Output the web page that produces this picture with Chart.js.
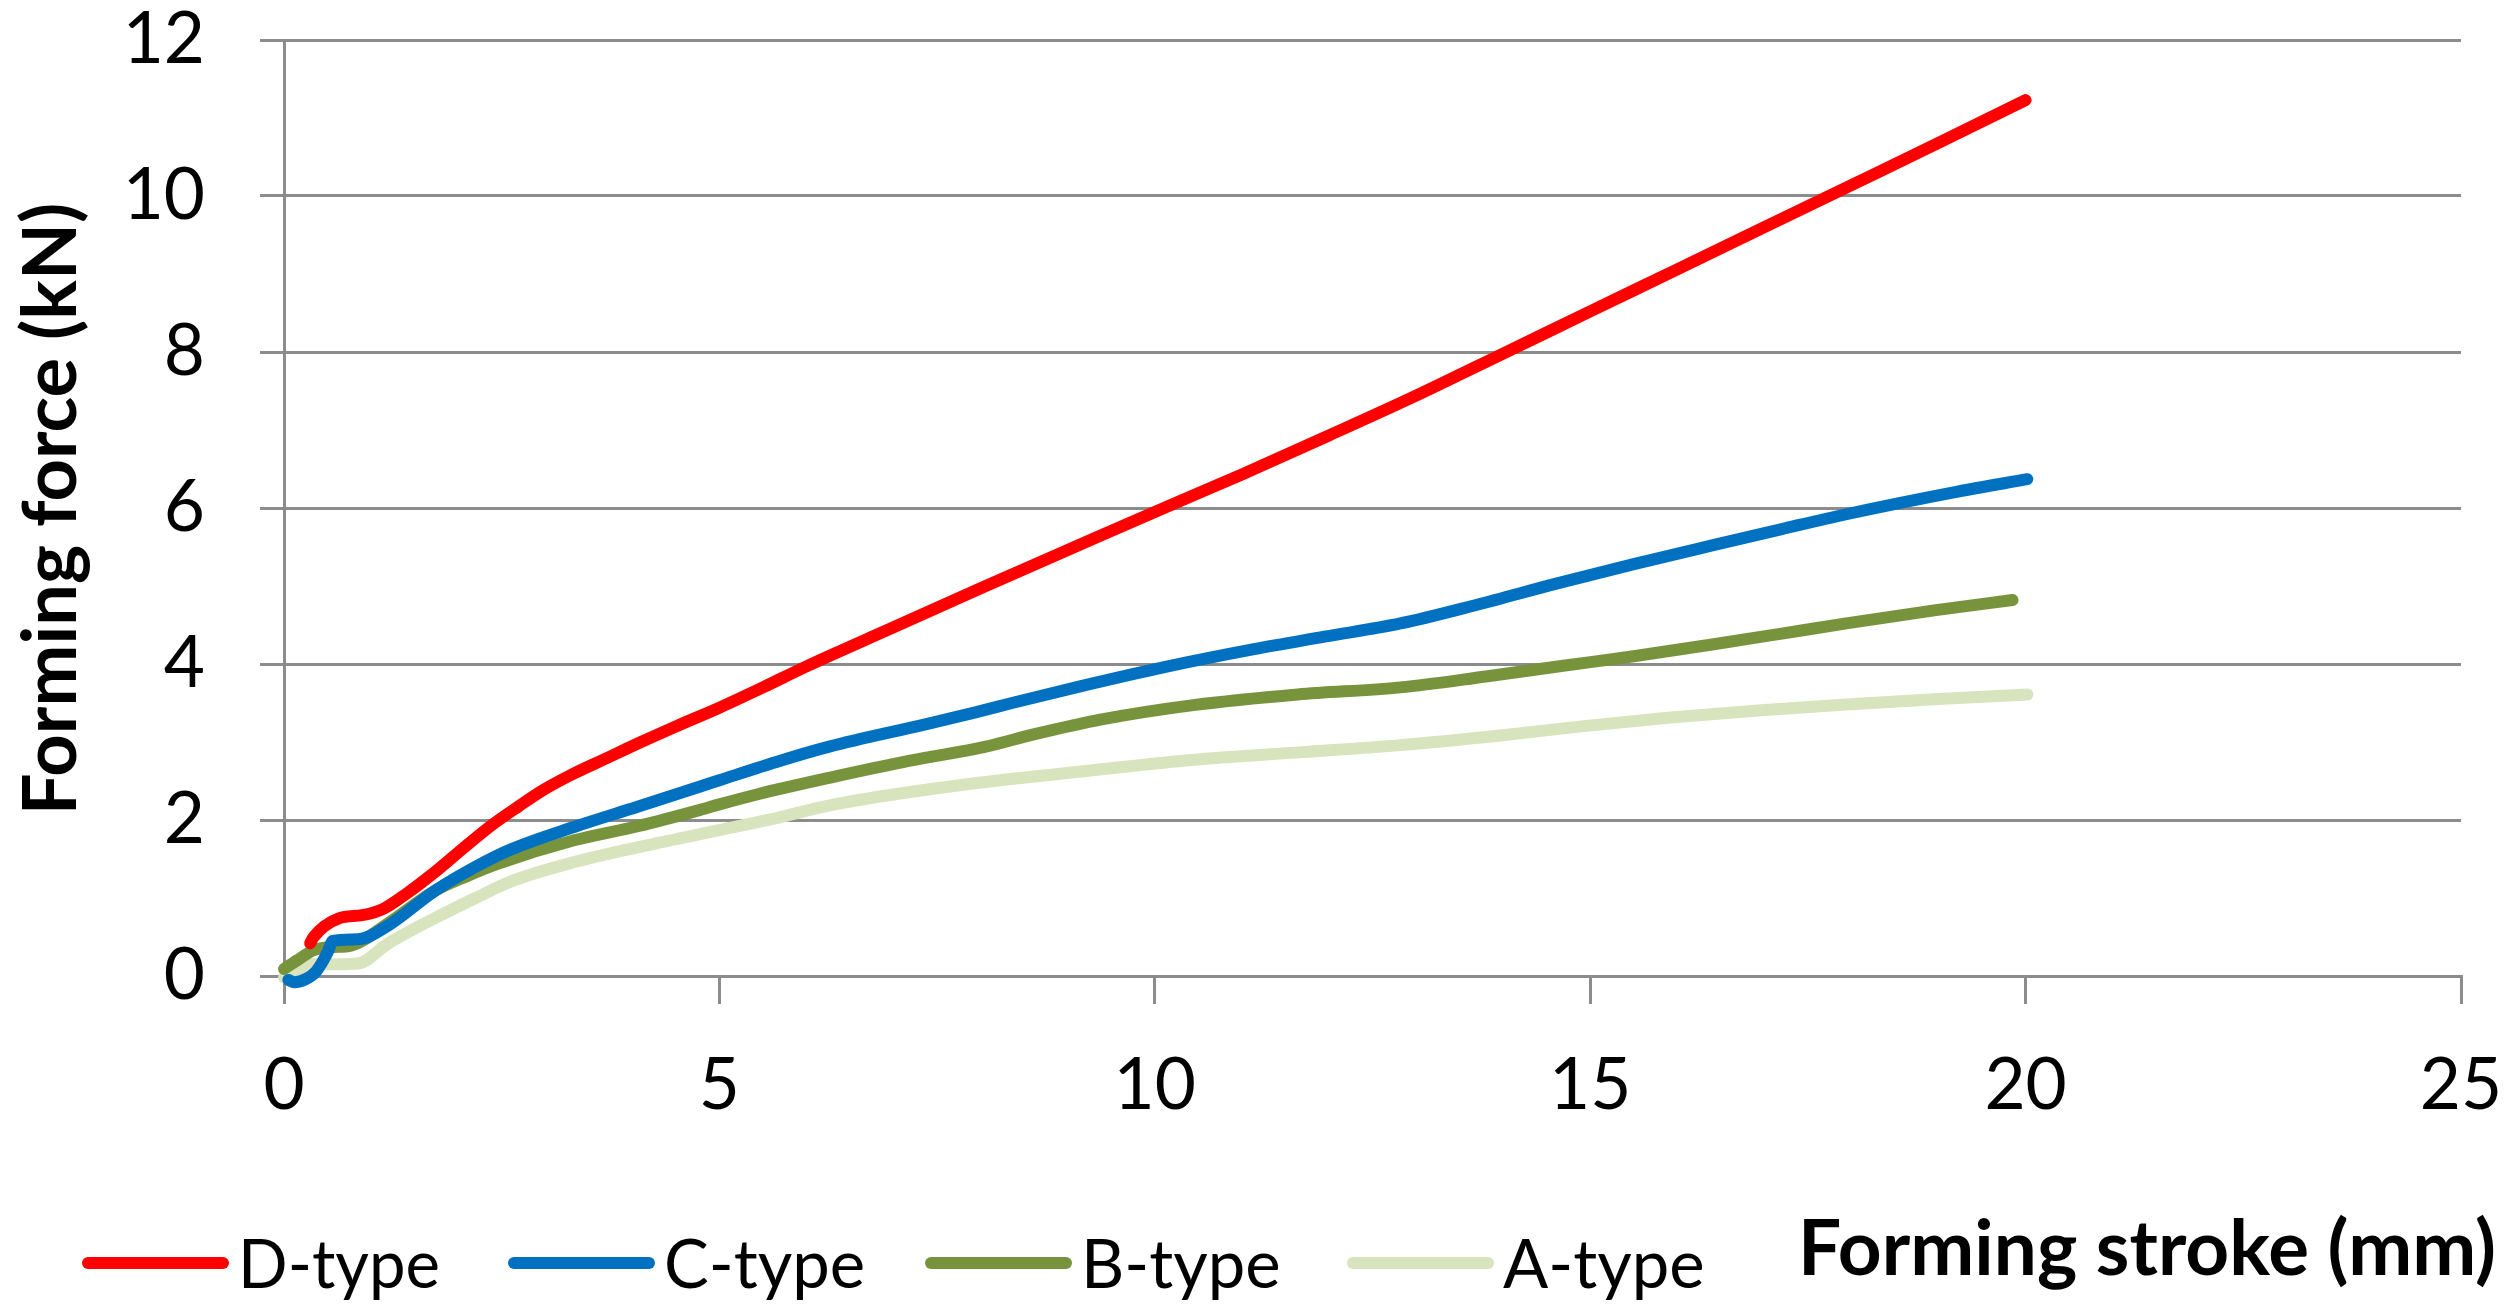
<!DOCTYPE html>
<html lang="en">

<head>
	<meta charset="UTF-8">
	<title>Forming force x stroke</title>
	<script src="https://cdn.jsdelivr.net/npm/chart.js"></script>
	<style>
		body { margin: 0; background: #fff; }
		#wrap { width: 2517px; height: 1314px; }
	</style>
</head>

<body>
	<div id="wrap">
		<canvas id="forceChart" width="2517" height="1314"></canvas>
	</div>

	<script>
		// valores (stroke em mm, force em kN)
		const dStroke = [0.30, 0.34, 0.63, 0.9, 1.14, 1.4, 1.73, 2.05, 2.38, 2.7, 2.97, 3.3, 3.7, 4.1, 4.5, 5.0, 5.5, 6.0, 7.0, 8.0, 9.0, 10.0, 11.0, 12.0, 13.0, 14.0, 15.0, 16.0, 17.0, 18.0, 19.0, 20.0];
		const dForce = [0.42, 0.50, 0.74, 0.78, 0.86, 1.05, 1.33, 1.63, 1.93, 2.18, 2.38, 2.58, 2.79, 3.0, 3.2, 3.44, 3.70, 3.97, 4.47, 4.97, 5.46, 5.95, 6.43, 6.93, 7.44, 7.98, 8.52, 9.06, 9.60, 10.14, 10.68, 11.23];

		const cStroke = [0.05, 0.12, 0.25, 0.37, 0.50, 0.56, 0.85, 1.2, 1.73, 2.2, 2.6, 3.33, 4.06, 4.78, 5.0, 5.70, 6.26, 7.34, 7.94, 8.36, 9.13, 10.11, 11.14, 11.95, 12.82, 13.7, 14.61, 15.5, 16.40, 17.2, 17.94, 19.22, 20.02];
		const cForce = [-0.05, -0.08, -0.04, 0.06, 0.30, 0.45, 0.47, 0.65, 1.09, 1.40, 1.62, 1.91, 2.17, 2.43, 2.51, 2.76, 2.94, 3.22, 3.38, 3.50, 3.71, 3.96, 4.19, 4.35, 4.52, 4.76, 5.03, 5.28, 5.52, 5.73, 5.92, 6.21, 6.37];

		const bStroke = [0.0, 0.15, 0.34, 0.55, 0.77, 1.2, 1.73, 2.1, 2.46, 3.33, 4.06, 4.78, 5.0, 5.44, 6.26, 7.19, 8.06, 8.62, 9.39, 10.42, 11.64, 12.82, 13.8, 14.71, 15.5, 16.40, 17.2, 17.94, 18.97, 19.85];
		const bForce = [0.09, 0.2, 0.33, 0.37, 0.39, 0.68, 1.09, 1.28, 1.44, 1.74, 1.92, 2.13, 2.20, 2.33, 2.54, 2.76, 2.94, 3.10, 3.29, 3.47, 3.61, 3.70, 3.84, 3.98, 4.10, 4.25, 4.39, 4.52, 4.69, 4.82];

		const aStroke = [0.0, 0.15, 0.34, 0.6, 0.85, 1.2, 1.73, 2.2, 2.6, 3.3, 4.06, 4.78, 5.0, 5.6, 6.32, 7.85, 9.39, 10.42, 11.70, 12.82, 13.94, 14.9, 15.89, 17.0, 17.94, 19.0, 20.02];
		const aForce = [-0.02, 0.05, 0.15, 0.15, 0.16, 0.42, 0.74, 1.0, 1.21, 1.45, 1.65, 1.82, 1.87, 2.01, 2.20, 2.46, 2.65, 2.77, 2.87, 2.96, 3.08, 3.20, 3.31, 3.41, 3.48, 3.55, 3.61];

		const seriesNames = ['D-type', 'C-type', 'B-type', 'A-type'];
		const seriesColors = ['#ff0000', '#0070c0', '#77933c', '#d7e4bd'];
		const xTicks = [0, 5, 10, 15, 20, 25];
		const yTicks = [0, 2, 4, 6, 8, 10, 12];

		function pontos(xs, ys) {
			return xs.map((x, i) => ({ x: x, y: ys[i] }));
		}

		const allData = [
			pontos(dStroke, dForce),
			pontos(cStroke, cForce),
			pontos(bStroke, bForce),
			pontos(aStroke, aForce)
		];

		const gridCor = '#8c8c8c';
		const fonte = 'Lato';

		// legenda + titulos dos eixos desenhados na mao (a legenda fica na mesma linha do titulo do x)
		const legendaX = [88, 514, 931, 1353];
		const textosPlugin = {
			id: 'textosPlugin',
			afterDraw(chart) {
				const ctx = chart.ctx;
				ctx.save();
				ctx.textBaseline = 'middle';
				ctx.textAlign = 'left';
				ctx.lineCap = 'round';
				chart.data.datasets.forEach((ds, i) => {
					const x0 = legendaX[i];
					ctx.strokeStyle = ds.borderColor;
					ctx.lineWidth = 12;
					ctx.beginPath();
					ctx.moveTo(x0, 1263);
					ctx.lineTo(x0 + 135, 1263);
					ctx.stroke();
					ctx.fillStyle = '#000';
					ctx.font = '67px ' + fonte;
					ctx.fillText(ds.label, x0 + 150, 1266, 202);
				});

				ctx.font = 'bold 77px ' + fonte;
				ctx.fillStyle = '#000';
				ctx.fillText('Forming stroke (mm)', 1798, 1250, 698);

				// titulo do eixo y, girado
				ctx.translate(52, 509);
				ctx.rotate(-Math.PI / 2);
				ctx.textAlign = 'center';
				ctx.font = 'bold 74px ' + fonte;
				ctx.fillText('Forming force (kN)', 0, 0, 620);
				ctx.restore();
			}
		};

		const ctx = document.getElementById('forceChart').getContext('2d');
		window.chartInstance = new Chart(ctx, {
			type: 'scatter',
			data: {
				datasets: seriesNames.map((nome, i) => ({
					label: nome,
					data: allData[i],
					showLine: true,
					borderColor: seriesColors[i],
					backgroundColor: seriesColors[i],
					borderWidth: 12,
					borderCapStyle: 'round',
					borderJoinStyle: 'round',
					pointRadius: 0,
					cubicInterpolationMode: 'monotone',
					clip: false
				}))
			},
			options: {
				responsive: false,
				animation: false,
				events: [],
				layout: {
					padding: { top: 40, right: 56, bottom: 0, left: 0 }
				},
				plugins: {
					legend: { display: false },
					tooltip: { enabled: false }
				},
				scales: {
					x: {
						type: 'linear',
						min: 0,
						max: 25,
						afterBuildTicks: (scale) => { scale.ticks = xTicks.map(v => ({ value: v })); },
						afterFit: (scale) => {
							scale.height = 338;
							scale.paddingLeft = 0;
							scale.paddingRight = 0;
						},
						grid: {
							drawOnChartArea: false,
							color: gridCor,
							lineWidth: 3,
							tickLength: 28
						},
						border: { display: true, color: gridCor, width: 3 },
						ticks: {
							color: '#000',
							padding: 40,
							maxRotation: 0,
							font: { family: fonte, size: 71 }
						}
					},
					y: {
						min: 0,
						max: 12,
						afterBuildTicks: (scale) => { scale.ticks = yTicks.map(v => ({ value: v })); },
						afterFit: (scale) => {
							scale.width = 284;
							scale.paddingTop = 0;
							scale.paddingBottom = 0;
						},
						grid: {
							color: gridCor,
							lineWidth: 3,
							tickLength: 24
						},
						border: { display: true, color: gridCor, width: 3 },
						ticks: {
							color: '#000',
							padding: 55,
							font: { family: fonte, size: 71, lineHeight: 1.0 }
						}
					}
				}
			},
			plugins: [textosPlugin]
		});
	</script>
</body>

</html>
